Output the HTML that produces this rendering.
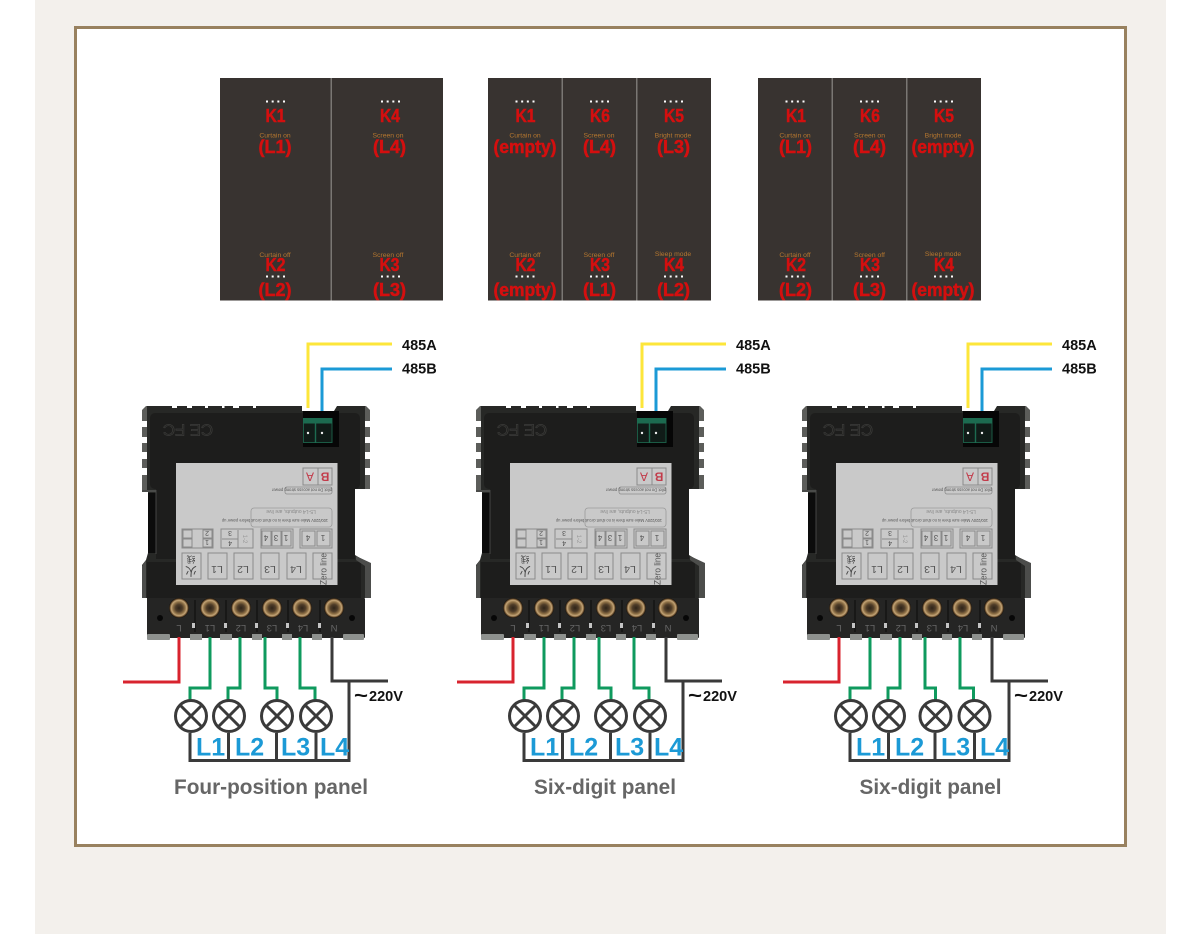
<!DOCTYPE html>
<html><head><meta charset="utf-8"><title>Wiring diagram</title>
<style>
html,body{margin:0;padding:0;background:#fff}
svg{display:block}
text{font-family:"Liberation Sans","Noto Sans CJK SC",sans-serif}
.k{font-size:18px;font-weight:700;fill:#d40f0f;text-anchor:middle;stroke:#d40f0f;stroke-width:.5}
.s{font-size:6.8px;fill:#b5772f;text-anchor:middle}
.d{fill:none;stroke:#fff;stroke-width:2;stroke-dasharray:2 3.67}
.w{fill:none;stroke-width:3;stroke-linejoin:miter}
.blk{font-size:14.5px;font-weight:700;fill:#111}
.lb{font-size:25px;font-weight:700;fill:#1c9ad6}
.cap{font-size:21px;font-weight:700;fill:#666;text-anchor:middle}
.c{fill:#c9c9c9;stroke:#8a8a8a;stroke-width:1}
.t{fill:#555;text-anchor:middle}
</style></head><body>
<svg width="1200" height="934" viewBox="0 0 1200 934" xmlns="http://www.w3.org/2000/svg">
<defs>
<radialGradient id="br" cx="50%" cy="50%" r="50%">
<stop offset="0" stop-color="#2e2419"/><stop offset=".35" stop-color="#4e3c28"/><stop offset=".6" stop-color="#8e7046"/><stop offset=".78" stop-color="#c4a577"/><stop offset=".9" stop-color="#6a4e2e"/><stop offset="1" stop-color="#0d0b08"/>
</radialGradient>
<g id="scr"><circle r="10" fill="url(#br)"/></g>
<g id="dev">
<!-- grey ears -->
<path d="M146 406H160V491H142V475H147V468H142V459H147V452H142V443H147V437H142V427H147V421H142V410Z" fill="#5c5d5a"/>
<path d="M366 406H345V489H370V475H365V468H370V459H365V452H370V443H365V437H370V427H365V421H370V410Z" fill="#5c5d5a"/>
<!-- body -->
<path d="M147 406H302V411H334L337 406H365V489H355V555L365 561V598H142V565L146 560L148 553V491H147Z" fill="#272826"/>
<rect x="150" y="413" width="210" height="76" rx="5" fill="#1d1d1c"/>
<rect x="156" y="489" width="199" height="70" fill="#1d1d1c"/>
<rect x="147" y="562" width="214" height="37" fill="#1d1d1c"/>
<path d="M356 556L371 563V598H365V566L356 560Z" fill="#4c4d4b"/>
<path d="M142 566L146 560V598H142Z" fill="#4c4d4b"/>
<rect x="148" y="493" width="8" height="60" fill="#0c0c0c"/>
<path d="M156 490V554" stroke="#454543" stroke-width="1"/>
<path d="M142 491H156" stroke="#4a4b49" stroke-width="2"/>
<g fill="#fff"><rect x="172" y="405" width="5" height="3"/><rect x="187" y="405" width="5" height="3"/><rect x="205" y="405" width="3" height="3"/><rect x="222" y="405" width="2.500" height="3"/><rect x="233" y="405" width="6" height="3"/><rect x="253" y="405" width="3" height="3"/></g>
<text transform="rotate(180 188 430)" x="188" y="435.500" font-size="16" text-anchor="middle" fill="none" stroke="#3d3d3b" stroke-width=".7" textLength="50" lengthAdjust="spacingAndGlyphs">CE FC</text>
<!-- connector -->
<rect x="303" y="411" width="36" height="36" fill="#060606"/>
<rect x="303.500" y="418.500" width="28.500" height="24" fill="#101c18" stroke="#1b5a44" stroke-width="1"/>
<rect x="303" y="418" width="29" height="5.500" fill="#1c6b50"/>
<path d="M315.500 418V443" stroke="#1c6b50" stroke-width="1.4"/>
<circle cx="308" cy="433" r="1.2" fill="#eee"/><circle cx="322" cy="433" r="1.2" fill="#eee"/>
<!-- label sticker -->
<rect x="176" y="463" width="161.500" height="122" fill="#c9c9c9"/>
<rect class="c" x="303" y="468" width="29" height="17"/><path d="M318 468V485" stroke="#8a8a8a"/>
<text transform="rotate(180 325 477)" x="325" y="481.500" font-size="12" fill="#c23b4a" text-anchor="middle" font-weight="700">B</text>
<text transform="rotate(180 310 477)" x="310" y="481.500" font-size="12" fill="#c23b4a" text-anchor="middle">A</text>
<rect x="285" y="487" width="47" height="7" rx="2" fill="none" stroke="#8a8a8a" stroke-width=".8"/>
<text class="t" transform="rotate(180 302 490.500)" x="302" y="492.500" font-size="4.4" textLength="60" lengthAdjust="spacingAndGlyphs">pilot Do not access strong power</text>
<rect x="251" y="508" width="81" height="19" rx="3" fill="none" stroke="#9a9a9a" stroke-width=".8"/>
<text class="t" transform="rotate(180 291 512)" x="291" y="514" font-size="5" style="fill:#888">L5-L4 outputs, are live</text>
<text class="t" transform="rotate(180 275 521)" x="275" y="523" font-size="4.600" textLength="106" lengthAdjust="spacingAndGlyphs">100/220V Make sure there is no short circuit before power up</text>
<!-- row 2 -->
<rect x="300" y="529" width="32" height="19" fill="none" stroke="#8a8a8a"/><rect class="c" x="302" y="531" width="13" height="15"/><rect class="c" x="317" y="531" width="13" height="15"/>
<text class="t" transform="rotate(180 323 538)" x="323" y="541" font-size="8">1</text><text class="t" transform="rotate(180 308 538)" x="308" y="541" font-size="8">4</text>
<rect x="261" y="529" width="32" height="19" fill="none" stroke="#8a8a8a"/><rect class="c" x="262" y="531" width="9" height="15"/><rect class="c" x="272" y="531" width="9" height="15"/><rect class="c" x="282" y="531" width="9" height="15"/>
<text class="t" transform="rotate(180 286 538)" x="286" y="541" font-size="8">1</text><text class="t" transform="rotate(180 276 538)" x="276" y="541" font-size="8">3</text><text class="t" transform="rotate(180 266 538)" x="266" y="541" font-size="8">4</text>
<rect x="221" y="529" width="32" height="19" fill="none" stroke="#8a8a8a"/><path d="M222 539H238M238 530V548" stroke="#8a8a8a" fill="none"/>
<text class="t" transform="rotate(180 230 534)" x="230" y="537" font-size="7">3</text><text class="t" transform="rotate(180 230 544)" x="230" y="547" font-size="7">4</text><text class="t" transform="rotate(90 245 539)" x="245" y="541" font-size="6" style="fill:#999">1-2</text>
<rect x="182" y="529" width="31" height="19" fill="none" stroke="#8a8a8a"/><rect x="183" y="530" width="9" height="8" class="c"/><rect x="183" y="539" width="9" height="8" class="c"/><rect x="203" y="530" width="9" height="8" class="c"/><rect x="203" y="539" width="9" height="8" class="c"/>
<text class="t" transform="rotate(180 207 534)" x="207" y="537" font-size="7">2</text><text class="t" transform="rotate(180 207 543)" x="207" y="546" font-size="7">1</text>
<!-- row 1 -->
<rect class="c" x="182" y="553" width="19" height="26"/><rect class="c" x="208" y="553" width="19" height="26"/><rect class="c" x="234" y="553" width="19" height="26"/><rect class="c" x="261" y="553" width="18" height="26"/><rect class="c" x="287" y="553" width="19" height="26"/><rect class="c" x="313" y="553" width="19" height="26"/>
<text class="t" transform="rotate(180 191 572)" x="191" y="577" font-size="12" style="fill:#444">火</text>
<text class="t" transform="rotate(180 191 560)" x="191" y="564" font-size="9" style="fill:#444">线</text>
<text class="t" transform="rotate(180 217 570)" x="217" y="574" font-size="10.500">L1</text>
<text class="t" transform="rotate(180 243 570)" x="243" y="574" font-size="10.500">L2</text>
<text class="t" transform="rotate(180 270 570)" x="270" y="574" font-size="10.500">L3</text>
<text class="t" transform="rotate(180 296 570)" x="296" y="574" font-size="10.500">L4</text>
<text class="t" transform="rotate(-90 323 569)" x="323" y="572.500" font-size="9.500" textLength="32" lengthAdjust="spacingAndGlyphs">Zero line</text>
<!-- terminals -->
<rect x="147" y="598" width="218" height="40" rx="1" fill="#252524"/>
<g fill="#8e918e"><rect x="147" y="634" width="23" height="6" rx="1"/><rect x="190" y="634" width="12" height="6"/><rect x="220" y="634" width="12" height="6"/><rect x="252" y="634" width="10" height="6"/><rect x="282" y="634" width="10" height="6"/><rect x="312" y="634" width="10" height="6"/><rect x="343" y="634" width="21" height="6" rx="1"/></g>
<path d="M195 600V632M226 600V632M257 600V632M288 600V632M320 600V632" stroke="#141413" stroke-width="1.500"/>
<circle cx="160" cy="618" r="3" fill="#070707"/><circle cx="352" cy="618" r="3" fill="#070707"/>
<use href="#scr" x="179" y="608"/><use href="#scr" x="210" y="608"/><use href="#scr" x="241" y="608"/><use href="#scr" x="272" y="608"/><use href="#scr" x="302" y="608"/><use href="#scr" x="334" y="608"/>
<g fill="#c4c4c4"><rect x="192" y="623" width="3" height="5"/><rect x="224" y="623" width="3" height="5"/><rect x="255" y="623" width="3" height="5"/><rect x="286" y="623" width="3" height="5"/><rect x="318" y="623" width="3" height="5"/></g>
<g fill="#666" font-size="9.500" text-anchor="middle">
<text transform="rotate(180 179 628)" x="179" y="631">L</text><text transform="rotate(180 210 628)" x="210" y="631">L1</text><text transform="rotate(180 241 628)" x="241" y="631">L2</text><text transform="rotate(180 272 628)" x="272" y="631">L3</text><text transform="rotate(180 303 628)" x="303" y="631">L4</text><text transform="rotate(180 334 628)" x="334" y="631">N</text>
</g>
<!-- top wires -->
<path class="w" stroke="#fde63a" d="M392 344H308V408"/>
<path class="w" stroke="#1b9ad6" d="M392 369H322V411"/>
<text class="blk" x="402" y="350">485A</text>
<text class="blk" x="402" y="373.500">485B</text>
<!-- bottom wires -->
<path class="w" stroke="#d8232e" d="M179 637V682H123"/>
<path class="w" stroke="#0f9a5e" d="M210 637V688H190V701"/>
<path class="w" stroke="#0f9a5e" d="M240 637V688H228V701"/>
<path class="w" stroke="#0f9a5e" d="M265 637V689.500"/>
<path class="w" stroke="#0f9a5e" d="M300 637V689.500"/>
<path class="w" stroke="#3a3a3a" d="M332 637V681H388M349 681V760.500H190V733M228.500 733V760"/>
<g fill="#fff" stroke="#3a3a3a" stroke-width="3">
<circle cx="191" cy="716" r="15.500"/><path d="M180 705L202 727M202 705L180 727"/>
<circle cx="229" cy="716" r="15.500"/><path d="M218 705L240 727M240 705L218 727"/>
</g>
<text class="lb" x="196" y="755.500">L1</text><text class="lb" x="235" y="755.500">L2</text><text class="lb" x="281" y="755.500">L3</text><text class="lb" x="320" y="755.500">L4</text>
<text x="354" y="702" font-size="20" font-weight="700" fill="#111" textLength="14" lengthAdjust="spacingAndGlyphs">~</text>
<text x="369" y="701" font-size="15" font-weight="700" fill="#111" textLength="34" lengthAdjust="spacingAndGlyphs">220V</text>
</g>
<g id="b34">
<path class="w" stroke="#0f9a5e" d="M265.500 688H277V701"/>
<path class="w" stroke="#0f9a5e" d="M300.500 688H315V701"/>
<path class="w" stroke="#3a3a3a" d="M276.500 733V760M316 733V760"/>
<g fill="#fff" stroke="#3a3a3a" stroke-width="3">
<circle cx="277" cy="716" r="15.500"/><path d="M266 705L288 727M288 705L266 727"/>
<circle cx="316" cy="716" r="15.500"/><path d="M305 705L327 727M327 705L305 727"/>
</g>
</g>
</defs>

<rect x="35" y="0" width="1131" height="934" fill="#f3f0ec"/>
<rect x="75.500" y="27.500" width="1050" height="818" fill="#fff" stroke="#98815f" stroke-width="3"/>

<!-- panel 1 -->
<rect x="220" y="78" width="223" height="222.500" fill="#383330"/>
<rect x="330.500" y="78" width="1.500" height="222.500" fill="#7a7773"/>
<path class="d" d="M266 101.500H285M381 101.500H400M266 276.500H285M381 276.500H400"/>
<text class="k" x="275.500" y="122" textLength="20" lengthAdjust="spacingAndGlyphs">K1</text><text class="s" x="275" y="137.500">Curtain on</text><text class="k" x="275" y="153">(L1)</text>
<text class="s" x="275" y="257">Curtain off</text><text class="k" x="275.500" y="271" textLength="20" lengthAdjust="spacingAndGlyphs">K2</text><text class="k" x="275" y="296">(L2)</text>
<text class="k" x="390" y="122" textLength="20" lengthAdjust="spacingAndGlyphs">K4</text><text class="s" x="388" y="137.500">Screen on</text><text class="k" x="389.500" y="153">(L4)</text>
<text class="s" x="388" y="257">Screen off</text><text class="k" x="389.500" y="271" textLength="20" lengthAdjust="spacingAndGlyphs">K3</text><text class="k" x="389.500" y="296">(L3)</text>

<!-- panel 2 -->
<rect x="488" y="78" width="223" height="222.500" fill="#383330"/>
<rect x="561.500" y="78" width="1.500" height="222.500" fill="#7a7773"/><rect x="636" y="78" width="1.500" height="222.500" fill="#7a7773"/>
<path class="d" d="M515.500 101.500H534.500M590 101.500H609M664 101.500H683M515.500 276.500H534.500M590 276.500H609M664 276.500H683"/>
<text class="k" x="525.500" y="122" textLength="20" lengthAdjust="spacingAndGlyphs">K1</text><text class="s" x="525" y="137.500">Curtain on</text><text class="k" x="525" y="153" textLength="63" lengthAdjust="spacingAndGlyphs">(empty)</text>
<text class="s" x="525" y="257">Curtain off</text><text class="k" x="525.500" y="271" textLength="20" lengthAdjust="spacingAndGlyphs">K2</text><text class="k" x="525" y="296" textLength="63" lengthAdjust="spacingAndGlyphs">(empty)</text>
<text class="k" x="600" y="122" textLength="20" lengthAdjust="spacingAndGlyphs">K6</text><text class="s" x="599" y="137.500">Screen on</text><text class="k" x="599.500" y="153">(L4)</text>
<text class="s" x="599" y="257">Screen off</text><text class="k" x="600" y="271" textLength="20" lengthAdjust="spacingAndGlyphs">K3</text><text class="k" x="599.500" y="296">(L1)</text>
<text class="k" x="674" y="122" textLength="20" lengthAdjust="spacingAndGlyphs">K5</text><text class="s" x="673" y="137.500">Bright mode</text><text class="k" x="673.500" y="153">(L3)</text>
<text class="s" x="673" y="256">Sleep mode</text><text class="k" x="674" y="271" textLength="20" lengthAdjust="spacingAndGlyphs">K4</text><text class="k" x="673.500" y="296">(L2)</text>

<!-- panel 3 -->
<rect x="758" y="78" width="223" height="222.500" fill="#383330"/>
<rect x="831.500" y="78" width="1.500" height="222.500" fill="#7a7773"/><rect x="906" y="78" width="1.500" height="222.500" fill="#7a7773"/>
<path class="d" d="M785.500 101.500H804.500M860 101.500H879M934 101.500H953M785.500 276.500H804.500M860 276.500H879M934 276.500H953"/>
<text class="k" x="796" y="122" textLength="20" lengthAdjust="spacingAndGlyphs">K1</text><text class="s" x="795" y="137.500">Curtain on</text><text class="k" x="795.500" y="153">(L1)</text>
<text class="s" x="795" y="257">Curtain off</text><text class="k" x="796" y="271" textLength="20" lengthAdjust="spacingAndGlyphs">K2</text><text class="k" x="795.500" y="296">(L2)</text>
<text class="k" x="870" y="122" textLength="20" lengthAdjust="spacingAndGlyphs">K6</text><text class="s" x="869.500" y="137.500">Screen on</text><text class="k" x="869.500" y="153">(L4)</text>
<text class="s" x="869.500" y="257">Screen off</text><text class="k" x="870" y="271" textLength="20" lengthAdjust="spacingAndGlyphs">K3</text><text class="k" x="869.500" y="296">(L3)</text>
<text class="k" x="944" y="122" textLength="20" lengthAdjust="spacingAndGlyphs">K5</text><text class="s" x="943" y="137.500">Bright mode</text><text class="k" x="943" y="153" textLength="63" lengthAdjust="spacingAndGlyphs">(empty)</text>
<text class="s" x="943" y="256">Sleep mode</text><text class="k" x="944" y="271" textLength="20" lengthAdjust="spacingAndGlyphs">K4</text><text class="k" x="943" y="296" textLength="63" lengthAdjust="spacingAndGlyphs">(empty)</text>

<!-- devices -->
<use href="#dev"/>
<use href="#dev" x="334"/>
<use href="#dev" x="660"/>
<use href="#b34"/>
<use href="#b34" x="334"/>
<use href="#b34" x="658.500"/>
<text class="cap" x="271" y="794" textLength="194" lengthAdjust="spacingAndGlyphs">Four-position panel</text>
<text class="cap" x="605" y="794" textLength="142" lengthAdjust="spacingAndGlyphs">Six-digit panel</text>
<text class="cap" x="930.500" y="794" textLength="142" lengthAdjust="spacingAndGlyphs">Six-digit panel</text>
</svg>
</body></html>
